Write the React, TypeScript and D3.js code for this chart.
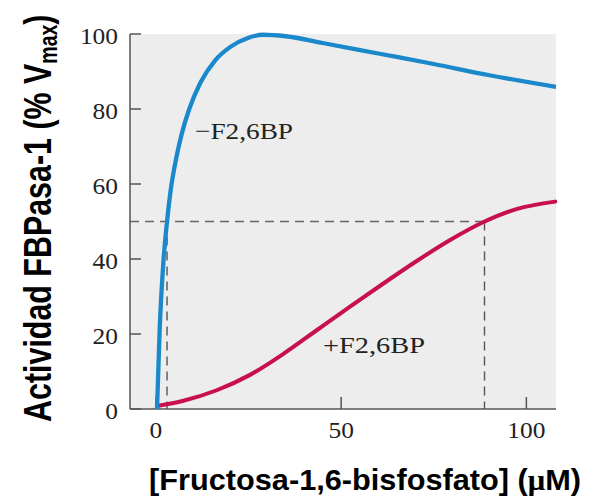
import React from 'react';
import * as d3 from 'd3';

// ---- data ----
const xTicks = [0, 50, 100];
const yTicks = [0, 20, 40, 60, 80, 100];

// −F2,6BP (blue)
const minusX = [0.3, 1, 2, 3, 4, 5.5, 7, 9, 12, 16, 20, 25, 29, 35, 45, 60, 75, 90, 108];
const minusY = [0, 21, 39, 50, 58.5, 67, 73.5, 80, 87, 93, 96.5, 99, 99.8, 99.4, 97.6, 94.8, 92.0, 89.0, 85.9];

// +F2,6BP (red)
const plusX = [0.3, 7.4, 16.4, 25.4, 34.4, 43.4, 52.4, 61.3, 70.3, 79.3, 88.3, 97.3, 107.8];
const plusY = [0.8, 2.2, 5.0, 9.1, 14.7, 21.0, 27.3, 33.4, 39.4, 45.0, 49.8, 53.3, 55.3];

const halfLevel = 50;
const halfX = [3.0, 88.7];

const xDomain = [-7, 108];
const yDomain = [0, 100];

export default function App() {
  const W = 596, H = 499;
  const left = 130, right = 556, top = 34, bottom = 409;
  const x = d3.scaleLinear().domain(xDomain).range([left, right]);
  const y = d3.scaleLinear().domain(yDomain).range([bottom, top]);

  const line = d3.line<[number, number]>()
    .x(d => x(d[0]))
    .y(d => y(d[1]))
    .curve(d3.curveMonotoneX);

  const minusPts = minusX.map((v, i) => [v, minusY[i]] as [number, number]);
  const plusPts = plusX.map((v, i) => [v, plusY[i]] as [number, number]);

  const serif = "'Liberation Serif', 'Times New Roman', serif";
  const sans = "'Liberation Sans', Arial, sans-serif";
  const axisColor = '#555';

  return (
    <svg width={W} height={H} style={{ position: 'absolute', left: 0, top: 0, background: '#fff' }}>
      <rect x={left} y={top} width={right - left} height={bottom - top} fill="#ededed" />

      {/* dashed guides */}
      <line x1={left} x2={x(halfX[1])} y1={y(halfLevel)} y2={y(halfLevel)}
        stroke="#666" strokeWidth={1.4} strokeDasharray="9,6" />
      {halfX.map((hx, i) => (
        <line key={i} x1={x(hx)} x2={x(hx)} y1={y(halfLevel)} y2={y(0)}
          stroke="#555" strokeWidth={1.4} strokeDasharray="9,6" />
      ))}

      {/* axes */}
      <line x1={left} x2={left} y1={top} y2={bottom} stroke={axisColor} strokeWidth={1.5} />
      <line x1={left} x2={right} y1={bottom} y2={bottom} stroke={axisColor} strokeWidth={1.5} />
      {yTicks.map(t => (
        <g key={'y' + t}>
          <line x1={left} x2={left + 11} y1={y(t)} y2={y(t)} stroke={axisColor} strokeWidth={1.5} />
          <text x={118} y={y(t) + 10} textAnchor="end" fontFamily={serif} fontSize={24}
            textLength={String(t).length * 12.7} lengthAdjust="spacingAndGlyphs" fill="#222">{t}</text>
        </g>
      ))}
      {xTicks.map(t => (
        <g key={'x' + t}>
          <line x1={x(t)} x2={x(t)} y1={bottom} y2={bottom - 12} stroke={axisColor} strokeWidth={1.5} />
          <text x={x(t) - String(t).length * 6.35} y={438} fontFamily={serif} fontSize={24}
            textLength={String(t).length * 12.7} lengthAdjust="spacingAndGlyphs" fill="#222">{t}</text>
        </g>
      ))}

      {/* curves */}
      <path d={line(plusPts) || ''} fill="none" stroke="#c8104e" strokeWidth={4} strokeLinecap="round" />
      <path d={line(minusPts) || ''} fill="none" stroke="#1a88cb" strokeWidth={4.3} strokeLinecap="butt" />

      {/* curve labels */}
      <text x={195} y={139} fontFamily={serif} fontSize={24} textLength={98}
        lengthAdjust="spacingAndGlyphs" fill="#222">−F2,6BP</text>
      <text x={323} y={353} fontFamily={serif} fontSize={24} textLength={102}
        lengthAdjust="spacingAndGlyphs" fill="#222">+F2,6BP</text>

      {/* axis titles */}
      <text x={149} y={490} fontFamily={sans} fontWeight="bold" fontSize={29}
        textLength={432} lengthAdjust="spacingAndGlyphs" fill="#000">
        [Fructosa-1,6-bisfosfato] (<tspan fontFamily={serif}>μ</tspan>M)
      </text>

      <g transform="translate(51,422) rotate(-90) scale(0.78,1)">
        <text x={0} y={0} fontFamily={sans} fontWeight="bold" fontSize={39} fill="#000">
          Actividad FBPasa-1 (% V
          <tspan fontSize={25} dy={6}>max</tspan>
          <tspan dy={-6}>)</tspan>
        </text>
      </g>
    </svg>
  );
}
